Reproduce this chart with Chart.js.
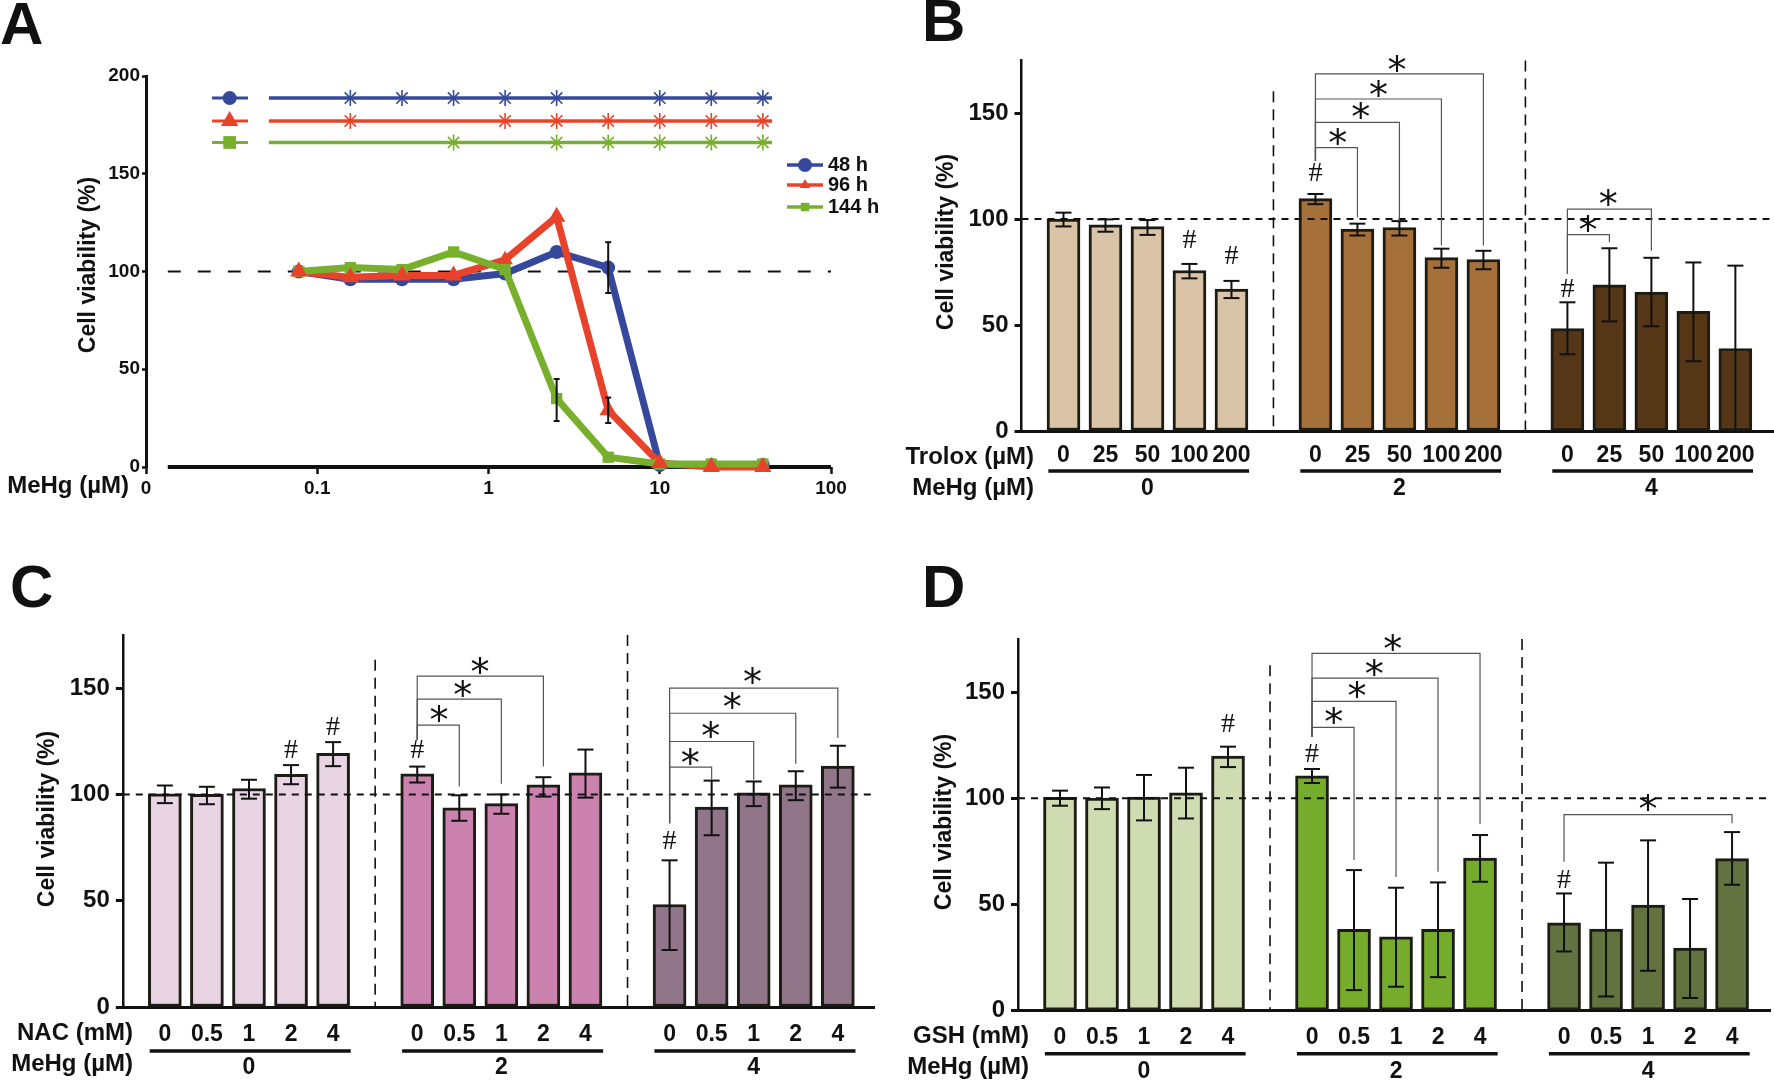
<!DOCTYPE html>
<html>
<head>
<meta charset="utf-8">
<title>Cell viability</title>
<script src="https://cdn.jsdelivr.net/npm/chart.js@4"></script>
<style>
  html, body { margin: 0; padding: 0; background: #fff; overflow: hidden; width: 1774px; height: 1080px; }
  canvas { position: absolute; }
  #panelA { left: 0; top: 0; }
  #panelB { left: 890px; top: 0; }
  #panelC { left: 0; top: 540px; }
  #panelD { left: 890px; top: 540px; }
</style>
</head>
<body>
<canvas id="panelA" width="890" height="540"></canvas>
<canvas id="panelB" width="890" height="540"></canvas>
<canvas id="panelC" width="890" height="540"></canvas>
<canvas id="panelD" width="890" height="540"></canvas>
<script>
// Panel A: dose response
const doses = [0.078, 0.156, 0.3125, 0.625, 1.25, 2.5, 5, 10, 20, 40];
const viability48h = [100, 96, 96, 96, 99, 110, 102, 1, 1, 1];
const viability96h = [100, 97, 98, 98, 106, 128, 29, 2, 0, 0];
const viability144h = [100, 102, 101, 110, 101, 35, 5, 1.5, 1.5, 1.5];
const errors48h = [[5, 89, 115]];
const errors96h = [[5, 22.5, 35.5]];
const errors144h = [[2.5, 23.5, 45]];
const sig48h = [0.156, 0.3125, 0.625, 1.25, 2.5, 10, 20, 40];
const sig96h = [0.156, 1.25, 2.5, 5, 10, 20, 40];
const sig144h = [0.625, 2.5, 5, 10, 20, 40];
const logTicks = [0.01, 0.1, 1, 10, 100];
const logTickLabels = ['0', '0.1', '1', '10', '100'];
const ticksA = [0, 50, 100, 150, 200];
const ticksBars = [0, 50, 100, 150];
const mehgLabels = ['0', '2', '4'];

// Panel B: Trolox
const troloxLabels = ['0', '25', '50', '100', '200', '0', '25', '50', '100', '200', '0', '25', '50', '100', '200'];
const troloxMeans = [100, 97.2, 96.4, 75.7, 67, 109.6, 95.3, 96, 81.8, 80.9, 48.3, 69, 65.5, 56.4, 38.9];
const troloxUpper = [103, 99.8, 99.5, 78.8, 70.8, 111.8, 97.8, 99, 86, 85, 60.7, 86.2, 81.7, 79.5, 78];
const troloxLower = [96.5, 94, 92.5, 72, 62.7, 107, 92.2, 92.2, 77, 76.3, 36.2, 51.7, 49.4, 32.9, 0];

// Panel C: NAC
const nacLabels = ['0', '0.5', '1', '2', '4', '0', '0.5', '1', '2', '4', '0', '0.5', '1', '2', '4'];
const nacMeans = [100.3, 100, 102.8, 109.5, 119.3, 109.7, 93.7, 95.7, 104.5, 110.2, 48.2, 94, 100.7, 104.5, 113.3];
const nacUpper = [104.2, 103.6, 106.9, 113.8, 124.6, 113.1, 99.6, 100, 108.1, 121.1, 69, 106.5, 106.1, 110.9, 122.9];
const nacLower = [95.9, 95.4, 98, 104.8, 113.3, 105.6, 87.6, 90.9, 99, 98.5, 26.8, 80.8, 94.5, 97.3, 103.2];

// Panel D: GSH
const gshLabels = nacLabels;
const gshMeans = [100.4, 100.1, 100.6, 102.6, 119.9, 110.6, 38.3, 34.8, 38.3, 71.9, 41.4, 38.4, 49.7, 29.5, 71.6];
const gshUpper = [103.6, 105.1, 111, 114.4, 124.3, 113.8, 66.2, 57.9, 60.4, 82.7, 55.2, 69.7, 80.2, 52.6, 84.1];
const gshLower = [96.5, 94.9, 89.6, 90.5, 114.7, 107.2, 9.7, 11.3, 15.8, 60.7, 27.9, 6.7, 18.8, 6, 59.3];

// Significance marks, in scale units: [from, to, level, right end, left end]
const troloxBrackets = [[7, 8, 133.7, 100.8, 127.4], [7, 9, 145.6, 99.2, 127.4], [7, 10, 156.6, 87.5, 127.4], [7, 11, 168.5, 87.5, 127.4],
  [13, 14, 92.6, 89, 74], [13, 15, 104.7, 85, 74]];
const troloxStars = [[7.53, 139.2], [8.08, 151.3], [8.5, 161.9], [8.94, 173.7], [13.49, 98], [13.97, 110.2]];
const troloxHashes = [[4, 89.8], [5, 82.4], [7, 121.5], [13, 66.6]];

const nacBrackets = [[7, 8, 132.6, 103.7, 125.7], [7, 9, 144.8, 105, 125.7], [7, 10, 155.7, 113.1, 125.7],
  [13, 14, 112.8, 106.9, 86.5], [13, 15, 124.9, 106.9, 86.5], [13, 16, 138.2, 114.4, 86.5], [13, 17, 150, 126.5, 86.5]];
const nacStars = [[7.52, 138.2], [8.08, 150.3], [8.49, 161], [13.49, 118.2], [13.98, 130.7], [14.49, 144.2], [14.97, 156.4]];
const nacHashes = [[4, 120.7], [5, 131.5], [7, 120.5], [13, 77.8]];

const gshBrackets = [[7, 8, 133.4, 70.9, 129], [7, 9, 145.6, 63, 129], [7, 10, 156.6, 65.4, 129], [7, 11, 168.2, 87.9, 129],
  [13, 17, 92.3, 88.2, 70.1]];
const gshStars = [[7.52, 139.2], [8.07, 151.3], [8.48, 161.9], [8.92, 173.7], [15, 98.4]];
const gshHashes = [[5, 134.5], [7, 120.4], [13, 61.2]];

const FONT = '"Liberation Sans", Arial, sans-serif';
const INK = '#111';
const BLUE = '#36489c';
const RED = '#e8432a';
const GREEN = '#78b02e';

Chart.defaults.font.family = FONT;
Chart.defaults.font.weight = 'bold';
Chart.defaults.color = INK;
Chart.defaults.animation = false;
Chart.defaults.devicePixelRatio = 1;
Chart.defaults.responsive = false;
Chart.defaults.plugins.legend.display = false;
Chart.defaults.plugins.tooltip.enabled = false;

function drawText(ctx, text, x, y, font, align) {
  ctx.save();
  ctx.font = font;
  ctx.fillStyle = INK;
  ctx.textAlign = align || 'center';
  ctx.textBaseline = 'middle';
  ctx.fillText(text, x, y);
  ctx.restore();
}

function drawYTitle(ctx, x, y) {
  ctx.save();
  ctx.translate(x, y);
  ctx.rotate(-Math.PI / 2);
  drawText(ctx, 'Cell viability (%)', 0, 0, 'bold 23px ' + FONT);
  ctx.restore();
}

// centre the asterisk glyph itself on the point
function drawStar(ctx, x, y) {
  ctx.save();
  ctx.font = '38px "DejaVu Sans"';
  ctx.fillStyle = INK;
  ctx.textAlign = 'center';
  ctx.textBaseline = 'alphabetic';
  const m = ctx.measureText('*');
  ctx.fillText('*', x, y + (m.actualBoundingBoxAscent - m.actualBoundingBoxDescent) / 2);
  ctx.restore();
}

function line(ctx, x1, y1, x2, y2) {
  ctx.beginPath();
  ctx.moveTo(x1, y1);
  ctx.lineTo(x2, y2);
  ctx.stroke();
}

// Bar panels share one layout: five bars, a gap, five bars, a gap, five bars
function barPosition(i) {
  return 1 + i + Math.floor(i / 5);
}

function createBarPanel(p) {
  const positions = p.means.map((v, i) => barPosition(i));

  const marks = {
    id: 'marks',
    afterDatasetsDraw(chart) {
      const { ctx, chartArea, scales } = chart;
      const px = v => scales.x.getPixelForValue(v);
      const py = v => scales.y.getPixelForValue(v);
      const y0 = chartArea.bottom;

      // reference line at 100 %
      ctx.save();
      ctx.strokeStyle = INK;
      ctx.lineWidth = 2;
      ctx.setLineDash([7, 6]);
      line(ctx, chartArea.left, py(100), chartArea.right, py(100));

      // group separators
      ctx.lineWidth = 1.6;
      ctx.setLineDash([11, 7]);
      p.separators.forEach(s => line(ctx, px(s[0]), py(s[1]), px(s[0]), y0));
      ctx.setLineDash([]);

      // error bars
      ctx.strokeStyle = INK;
      ctx.lineWidth = 2;
      positions.forEach((pos, i) => {
        const x = px(pos);
        line(ctx, x, py(p.upper[i]), x, py(p.lower[i]));
        line(ctx, x - 8, py(p.upper[i]), x + 8, py(p.upper[i]));
        if (p.lower[i] > 0) line(ctx, x - 8, py(p.lower[i]), x + 8, py(p.lower[i]));
      });

      // brackets
      ctx.strokeStyle = '#555';
      ctx.lineWidth = 1.2;
      p.brackets.forEach(b => {
        ctx.beginPath();
        ctx.moveTo(px(b[0]), py(b[4]));
        ctx.lineTo(px(b[0]), py(b[2]));
        ctx.lineTo(px(b[1]), py(b[2]));
        ctx.lineTo(px(b[1]), py(b[3]));
        ctx.stroke();
      });

      p.stars.forEach(s => drawStar(ctx, px(s[0]), py(s[1])));
      p.hashes.forEach(h => drawText(ctx, '#', px(h[0]), py(h[1]), '28px "Liberation Serif"'));

      // rows under the axis
      ctx.strokeStyle = INK;
      ctx.lineWidth = 3.5;
      mehgLabels.forEach((label, g) => {
        const first = barPosition(g * 5);
        line(ctx, px(first - 0.36), y0 + p.rowLine, px(first + 4.42), y0 + p.rowLine);
        drawText(ctx, label, px(first + 2), y0 + p.rowGroup, 'bold 23px ' + FONT);
      });
      drawText(ctx, p.doseTitle, p.rowRight, y0 + p.rowDoseTitle, 'bold 24px ' + FONT, 'right');
      drawText(ctx, 'MeHg (µM)', p.rowRight, y0 + p.rowMehgTitle, 'bold 24px ' + FONT, 'right');
      ctx.restore();

      drawYTitle(ctx, p.titleX, p.titleY);
      drawText(ctx, p.letter, p.letterX, p.letterY, 'bold 60px ' + FONT, 'left');
    }
  };

  return new Chart(document.getElementById(p.id), {
    type: 'bar',
    data: {
      datasets: [{
        data: p.means.map((v, i) => ({ x: positions[i], y: v })),
        backgroundColor: p.means.map((v, i) => p.colors[Math.floor(i / 5)]),
        borderColor: '#1c1c14',
        borderWidth: 3,
        borderSkipped: false,
        barThickness: 33
      }]
    },
    options: {
      layout: { padding: { top: p.top, right: 890 - p.right, left: 0, bottom: 0 } },
      scales: {
        x: {
          type: 'linear',
          offset: false,
          min: 0,
          max: p.xMax,
          afterBuildTicks: s => { s.ticks = positions.map(v => ({ value: v })); },
          afterFit: s => { s.height = 540 - p.bottom; },
          grid: { display: false, drawTicks: false },
          border: { color: INK, width: 3 },
          ticks: {
            autoSkip: false,
            maxRotation: 0,
            padding: p.tickPad,
            font: { size: 23, weight: 'bold' },
            callback: v => p.labels[positions.indexOf(v)]
          }
        },
        y: {
          min: 0,
          max: 175,
          afterBuildTicks: s => { s.ticks = ticksBars.map(v => ({ value: v })); },
          afterFit: s => { s.width = p.left; },
          grid: { drawOnChartArea: false, tickLength: 7, tickWidth: 3, tickColor: INK },
          border: { color: INK, width: 2.5 },
          ticks: { padding: 6, font: { size: 24, weight: 'bold' } }
        }
      }
    },
    plugins: [marks]
  });
}

function createDoseResponse() {
  const point = (x, y) => ({ x, y });
  const series = (values, color, style, radius) => ({
    data: doses.map((d, i) => point(d, values[i])),
    borderColor: color,
    backgroundColor: color,
    borderWidth: 7,
    pointStyle: style,
    pointRadius: radius,
    pointBorderWidth: 0,
    tension: 0,
    clip: false
  });
  // stub with the series symbol, then a line carrying the significance stars
  const sigStub = (y, color, style, radius) => ({
    data: [point(0.0243, y), point(0.0308, y), point(0.0394, y)],
    borderColor: color,
    backgroundColor: color,
    borderWidth: 3,
    pointStyle: style,
    pointBorderWidth: 0,
    pointRadius: ctx => (ctx.dataIndex === 1 ? radius : 0)
  });
  const sigLine = (y, color, stars) => ({
    data: [point(0.0522, y), ...stars.map(s => point(s, y)), point(45.3, y)],
    borderColor: color,
    backgroundColor: color,
    borderWidth: 3.5,
    pointStyle: 'star',
    pointBorderColor: color,
    pointBorderWidth: 1.6,
    pointRadius: ctx => (ctx.dataIndex === 0 || ctx.dataIndex === stars.length + 1 ? 0 : 8)
  });

  const redOverlay = series(viability96h, RED, 'triangle', 9);
  redOverlay.showLine = false;
  redOverlay.pointRadius = ctx => (ctx.dataIndex === 4 ? 0 : 10);

  const legendRows = [
    ['48 h', BLUE, 'circle', 7, 165],
    ['96 h', RED, 'triangle', 6, 185],
    ['144 h', GREEN, 'rect', 6, 207]
  ];

  const marks = {
    id: 'marks',
    beforeDatasetsDraw(chart) {
      const { ctx, chartArea, scales } = chart;
      const y0 = chartArea.bottom;
      ctx.save();
      ctx.strokeStyle = INK;
      ctx.lineWidth = 4;
      line(ctx, scales.x.getPixelForValue(0.0134), y0, chartArea.right, y0);
      ctx.lineWidth = 2;
      ctx.setLineDash([13, 17]);
      const y100 = scales.y.getPixelForValue(100);
      line(ctx, scales.x.getPixelForValue(0.0134), y100, chartArea.right, y100);
      ctx.restore();
    },
    afterDatasetsDraw(chart) {
      const { ctx, scales } = chart;
      const px = v => scales.x.getPixelForValue(v);
      const py = v => scales.y.getPixelForValue(v);
      ctx.save();
      ctx.strokeStyle = INK;
      ctx.lineWidth = 2;
      [...errors48h, ...errors96h, ...errors144h].forEach(e => {
        line(ctx, px(e[0]), py(e[1]), px(e[0]), py(e[2]));
        line(ctx, px(e[0]) - 3, py(e[1]), px(e[0]) + 3, py(e[1]));
        line(ctx, px(e[0]) - 3, py(e[2]), px(e[0]) + 3, py(e[2]));
      });

      // legend
      legendRows.forEach(r => {
        ctx.strokeStyle = r[1];
        ctx.lineWidth = 3.5;
        line(ctx, 787, r[4], 823, r[4]);
        ctx.fillStyle = r[1];
        ctx.strokeStyle = r[1];
        ctx.lineWidth = 0;
        Chart.helpers.drawPoint(ctx, { pointStyle: r[2], radius: r[3], rotation: 0, borderWidth: 0 }, 805, r[4]);
        drawText(ctx, r[0], 828, r[4], 'bold 20px ' + FONT, 'left');
      });
      ctx.restore();

      drawYTitle(ctx, 89, 265);
      drawText(ctx, 'MeHg (µM)', 129, 486, 'bold 24px ' + FONT, 'right');
      drawText(ctx, 'A', 0, 27, 'bold 60px ' + FONT, 'left');
    }
  };

  return new Chart(document.getElementById('panelA'), {
    type: 'line',
    data: {
      // Chart.js paints the first dataset last, so the top layer comes first
      datasets: [
        redOverlay,
        series(viability144h, GREEN, 'rect', 8),
        series(viability96h, RED, 'triangle', 9),
        series(viability48h, BLUE, 'circle', 7),
        sigStub(188.7, BLUE, 'circle', 7),
        sigStub(177, RED, 'triangle', 10),
        sigStub(166, GREEN, 'rect', 9),
        sigLine(188.7, BLUE, sig48h),
        sigLine(177, RED, sig96h),
        sigLine(166, GREEN, sig144h)
      ]
    },
    options: {
      layout: { padding: { top: 76, right: 59, left: 0, bottom: 0 } },
      scales: {
        x: {
          type: 'logarithmic',
          min: 0.01,
          max: 100,
          afterBuildTicks: s => { s.ticks = logTicks.map(v => ({ value: v, major: true })); },
          afterFit: s => { s.height = 73; },
          grid: { drawOnChartArea: false, tickLength: 7, tickWidth: 2.5, tickColor: INK },
          border: { display: false },
          ticks: {
            autoSkip: false,
            maxRotation: 0,
            padding: 3,
            font: { size: 19, weight: 'bold' },
            callback: v => logTickLabels[logTicks.indexOf(v)]
          }
        },
        y: {
          min: 0,
          max: 200,
          afterBuildTicks: s => { s.ticks = ticksA.map(v => ({ value: v })); },
          afterFit: s => { s.width = 146; },
          grid: { drawOnChartArea: false, tickLength: 4, tickWidth: 2.5, tickColor: INK },
          border: { color: INK, width: 3 },
          ticks: { padding: 2, font: { size: 19, weight: 'bold' } }
        }
      }
    },
    plugins: [marks]
  });
}

createDoseResponse();

createBarPanel({
  id: 'panelB', letter: 'B', letterX: 32, letterY: 24,
  left: 131.5, right: 884, top: 60, bottom: 431, xMax: 17.92, tickPad: 11,
  labels: troloxLabels, means: troloxMeans, upper: troloxUpper, lower: troloxLower,
  colors: ['#d9c4a7', '#a6703a', '#553616'],
  separators: [[6, 160.3], [12, 174.8]],
  brackets: troloxBrackets, stars: troloxStars, hashes: troloxHashes,
  doseTitle: 'Trolox (µM)', rowRight: 144, rowLine: 40, rowGroup: 58, rowDoseTitle: 26, rowMehgTitle: 57,
  titleX: 57, titleY: 242
});

createBarPanel({
  id: 'panelC', letter: 'C', letterX: 10, letterY: 50,
  left: 122.8, right: 874, top: 95, bottom: 467, xMax: 17.86, tickPad: 14,
  labels: nacLabels, means: nacMeans, upper: nacUpper, lower: nacLower,
  colors: ['#e8d4e3', '#cc82af', '#917588'],
  separators: [[6, 163.3], [12, 175]],
  brackets: nacBrackets, stars: nacStars, hashes: nacHashes,
  doseTitle: 'NAC (mM)', rowRight: 133, rowLine: 44, rowGroup: 61, rowDoseTitle: 26, rowMehgTitle: 57,
  titleX: 47.6, titleY: 279
});

createBarPanel({
  id: 'panelD', letter: 'D', letterX: 32, letterY: 50,
  left: 128, right: 880.7, top: 99, bottom: 470.7, xMax: 17.92, tickPad: 13,
  labels: gshLabels, means: gshMeans, upper: gshUpper, lower: gshLower,
  colors: ['#cfdcb1', '#76ac2b', '#62733f'],
  separators: [[6, 162.7], [12, 175]],
  brackets: gshBrackets, stars: gshStars, hashes: gshHashes,
  doseTitle: 'GSH (mM)', rowRight: 139, rowLine: 43, rowGroup: 61, rowDoseTitle: 26, rowMehgTitle: 57,
  titleX: 54.6, titleY: 282
});
</script>
</body>
</html>
